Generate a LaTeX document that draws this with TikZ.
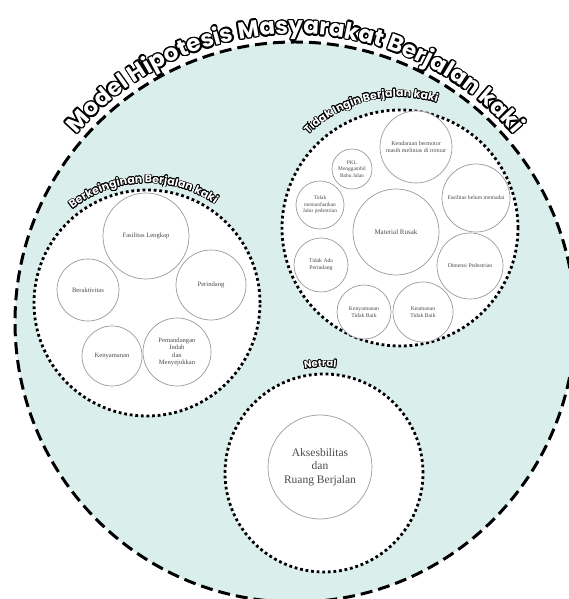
\documentclass[tikz,border=0pt]{standalone}
\usepackage{fontspec}
\setmainfont{Liberation Serif}
\newfontfamily\titlefont{Poppins}
\usepackage{contour}
\usetikzlibrary{positioning, decorations.text}
\definecolor{paleteal}{RGB}{218,238,235}
\definecolor{labelgrey}{RGB}{75,75,75}
\definecolor{rimgrey}{RGB}{155,155,155}
\newcommand{\outlinechar}[1]{\contour{black}{#1}}

\begin{document}
\begin{tikzpicture}
    [
        x=1pt, y=1pt,
        outer_ring/.style={circle, draw=black, fill=paleteal, line width=3pt, dash pattern=on 12pt off 6pt, inner sep=0pt},
        group_ring/.style={circle, draw=black, fill=white, line width=2.8pt, dash pattern=on 2.8pt off 2.8pt, inner sep=0pt},
        item_node/.style={circle, draw=rimgrey, fill=white, line width=0.7pt, inner sep=0pt, align=center, text=labelgrey, font=\fontsize{6.6}{7.6}\selectfont},
        arc_title/.style n args={3}{/utils/exec={\titlefont\bfseries\fontsize{#2}{#2}\selectfont\contourlength{#3}},
            decorate, decoration={text effects along path, text={#1}, text align=center,
            text effects/.cd, text along path,
            characters={text=white},
            character command=\outlinechar}},
    ]
        \useasboundingbox (0,0) rectangle (569,599);
        \clip (0,0) rectangle (569,599);

        \node[outer_ring, minimum size=560] (model) at (295,277) {};
        \node[group_ring, minimum size=226] (keinginan) at (147,296) {};
        \node[group_ring, minimum size=236] (tidak_ingin) at (400,371) {};
        \node[group_ring, minimum size=198] (netral) at (324,126) {};

        \path[arc_title={Model Hipotesis Masyarakat Berjalan kaki}{23}{1.4pt}] (model.center) ++(150:288) arc[start angle=150, end angle=30, radius=288];
        \path[arc_title={Berkeinginan Berjalan kaki}{11}{0.75pt}] (keinginan.center) ++(132:120) arc[start angle=132, end angle=52, radius=120];
        \path[arc_title={Tidak Ingin Berjalan kaki}{11}{0.75pt}] (tidak_ingin.center) ++(144:131) arc[start angle=144, end angle=64, radius=131];
        \path[arc_title={Netral}{10}{0.75pt}] (netral.center) ++(112:106) arc[start angle=112, end angle=72, radius=106];

        \node[item_node, minimum size=86] (fasilitas_lengkap) at (146,363) {Fasilitas Lengkap};
        \node[item_node, minimum size=70] (perindang) at (211,314) {Perindang};
        \node[item_node, minimum size=62] (beraktivitas) at (88,309) {Beraktivitas};
        \node[item_node, minimum size=60] (kenyamanan) at (112,243) {Kenyamanan};
        \node[item_node, minimum size=68] (pemandangan) at (177,247) {Pemandangan\\Indah\\dan\\Menyejukkan};

        \node[item_node, minimum size=72, font=\fontsize{6}{7.2}\selectfont] (kendaraan) at (416,452) {Kendaraan bermotor\\masih melintas di trotoar};
        \node[item_node, minimum size=40, font=\fontsize{5.4}{6.6}\selectfont] (pkl) at (352,430) {PKL\\Menggambil\\Bahu Jalan};
        \node[item_node, minimum size=48, font=\fontsize{5.4}{6.6}\selectfont] (tidak_jalur) at (320,394) {Tidak\\memanfaatkan\\Jalur pedestrian};
        \node[item_node, minimum size=86, font=\fontsize{7}{8}\selectfont] (material) at (396,367) {Material Rusak};
        \node[item_node, minimum size=54, font=\fontsize{5.7}{7}\selectfont] (tidak_perindang) at (321,334) {Tidak Ada\\Perindang};
        \node[item_node, minimum size=54, font=\fontsize{5.7}{7}\selectfont] (kenyamanan_buruk) at (364,287) {Kenyamanan\\Tidak Baik};
        \node[item_node, minimum size=60, font=\fontsize{5.7}{7}\selectfont] (keamanan_buruk) at (423,287) {Keamanan\\Tidak Baik};
        \node[item_node, minimum size=68, font=\fontsize{5.7}{7}\selectfont] (fasilitas_belum) at (476,401) {Fasilitas belum memadai};
        \node[item_node, minimum size=66, font=\fontsize{5.7}{7}\selectfont] (dimensi) at (470,333) {Dimensi Pedestrian};

        \node[item_node, minimum size=104, font=\fontsize{11.5}{13.5}\selectfont] (aksesbilitas) at (320,132) {Aksesbilitas\\dan\\Ruang Berjalan};
    \end{tikzpicture}
\end{document}
